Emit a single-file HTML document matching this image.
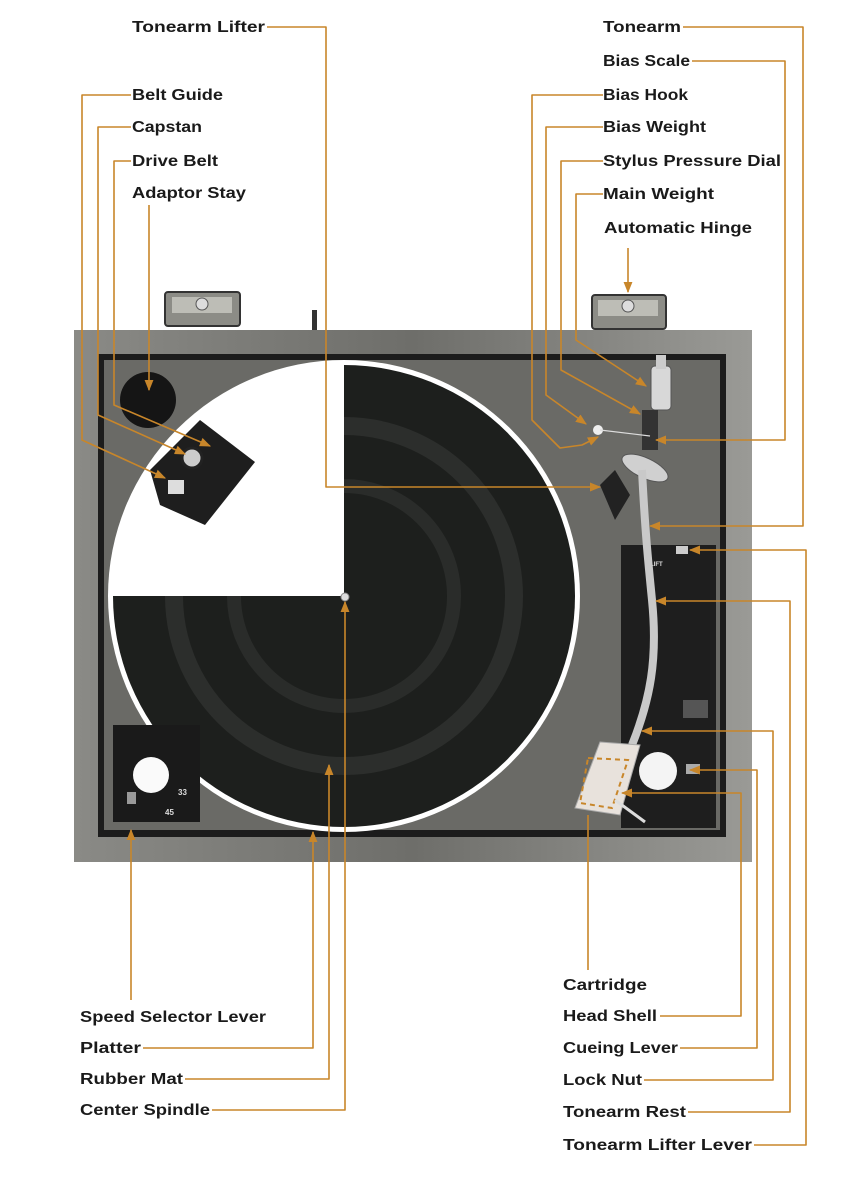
<!DOCTYPE html>
<html><head><meta charset="utf-8"><style>
html,body{margin:0;padding:0;background:#fff;}
svg{display:block;}
text{font-family:"Liberation Sans",sans-serif;font-weight:bold;font-size:15.5px;fill:#1a1a1a;}
.l{fill:none;stroke:#c8862a;stroke-width:1.6;stroke-linejoin:round;}
</style></head><body>
<svg width="854" height="1200" viewBox="0 0 854 1200" xmlns="http://www.w3.org/2000/svg">
<defs>
<marker id="a" viewBox="0 0 10 10" refX="9" refY="5" markerWidth="7" markerHeight="7" orient="auto-start-reverse"><path d="M0,1 L10,5 L0,9 z" fill="#c8862a"/></marker>
<linearGradient id="wood" x1="0" y1="0" x2="1" y2="0"><stop offset="0" stop-color="#8a8a86"/><stop offset="0.5" stop-color="#6e6e6a"/><stop offset="1" stop-color="#9a9a96"/></linearGradient>
</defs>
<!-- hinges -->
<rect x="165" y="292" width="75" height="34" rx="3" fill="#8c8c86" stroke="#333" stroke-width="2"/>
<rect x="172" y="297" width="60" height="16" fill="#bdbdb6"/>
<circle cx="202" cy="304" r="6" fill="#ddd" stroke="#555"/>
<rect x="592" y="295" width="74" height="34" rx="3" fill="#8c8c86" stroke="#333" stroke-width="2"/>
<rect x="598" y="300" width="60" height="16" fill="#bdbdb6"/>
<circle cx="628" cy="306" r="6" fill="#ddd" stroke="#555"/>
<rect x="312" y="310" width="5" height="20" fill="#333"/>
<!-- plinth -->
<rect x="74" y="330" width="678" height="532" fill="url(#wood)"/>
<rect x="98" y="354" width="628" height="483" fill="#1c1c1c"/>
<rect x="104" y="360" width="616" height="470" fill="#6a6a66"/>
<!-- adaptor stay -->
<circle cx="148" cy="400" r="28" fill="#151515"/>
<!-- platter -->
<circle cx="344" cy="596" r="236" fill="#fff"/>
<circle cx="344" cy="596" r="231" fill="#1d1f1d"/>
<circle cx="344" cy="596" r="170" fill="none" stroke="#2c2e2c" stroke-width="18"/>
<circle cx="344" cy="596" r="110" fill="none" stroke="#2a2c2a" stroke-width="14"/>
<path d="M344,596 L344,362 A234,234 0 0 0 110,596 Z" fill="#fff"/>
<circle cx="345" cy="597" r="4" fill="#ddd" stroke="#888"/>
<!-- belt area -->
<path d="M150,470 L200,420 L255,462 L205,525 L160,505 Z" fill="#1e1e1e"/>
<circle cx="192" cy="458" r="10" fill="#ccc" stroke="#222" stroke-width="3"/>
<rect x="168" y="480" width="16" height="14" fill="#ddd"/>
<!-- tonearm panel -->
<rect x="621" y="545" width="95" height="283" fill="#1e1e1e"/>
<rect x="683" y="700" width="25" height="18" fill="#555"/>
<circle cx="658" cy="771" r="19" fill="#f4f4f4"/>
<rect x="686" y="764" width="14" height="10" fill="#aaa"/>
<rect x="676" y="546" width="12" height="8" fill="#ccc"/>
<text x="650" y="566" style="font-size:6px;fill:#ddd">LIFT</text>
<!-- speed selector -->
<rect x="113" y="725" width="87" height="97" fill="#1a1a1a"/>
<circle cx="151" cy="775" r="18" fill="#fafafa"/>
<rect x="127" y="792" width="9" height="12" fill="#999"/>
<text x="178" y="795" style="font-size:8px;fill:#ddd">33</text>
<text x="165" y="815" style="font-size:8px;fill:#ddd">45</text>
<!-- tonearm -->
<rect x="651" y="366" width="20" height="44" rx="4" fill="#d8d8d8" stroke="#555"/>
<rect x="656" y="355" width="10" height="14" fill="#ccc"/>
<rect x="642" y="410" width="16" height="40" fill="#333"/>
<circle cx="598" cy="430" r="5" fill="#eee"/>
<line x1="600" y1="430" x2="650" y2="436" stroke="#ddd" stroke-width="1.2"/>
<ellipse cx="645" cy="468" rx="25" ry="10" transform="rotate(25 645 468)" fill="#d0d0d0" stroke="#555"/>
<path d="M600,485 L615,470 L630,495 L615,520 Z" fill="#222"/>
<path d="M642,470 C645,530 648,560 652,600 C658,660 650,700 632,745" fill="none" stroke="#c9c9c9" stroke-width="8"/>
<path d="M600,742 L640,745 L620,815 L575,808 Z" fill="#e8e2dc" stroke="#aaa"/>
<path d="M588,758 L628,760 L612,808 L580,803 Z" fill="none" stroke="#c8862a" stroke-width="2" stroke-dasharray="5 4"/>
<line x1="615" y1="800" x2="645" y2="822" stroke="#ddd" stroke-width="3"/>

<!-- leader lines -->
<path class="l" d="M267,27 H326 V487 H600" marker-end="url(#a)"/>
<path class="l" d="M683,27 H803 V526 H650" marker-end="url(#a)"/>
<path class="l" d="M692,61 H785 V440 H656" marker-end="url(#a)"/>
<path class="l" d="M603,95 H532 V420 L560,448 L582,445 L598,437" marker-end="url(#a)"/>
<path class="l" d="M603,127 H546 V395 L586,424" marker-end="url(#a)"/>
<path class="l" d="M603,161 H561 V370 L640,414" marker-end="url(#a)"/>
<path class="l" d="M603,194 H576 V340 L646,386" marker-end="url(#a)"/>
<path class="l" d="M628,248 V292" marker-end="url(#a)"/>
<path class="l" d="M131,95 H82 V440 L165,478" marker-end="url(#a)"/>
<path class="l" d="M131,127 H98 V415 L185,454" marker-end="url(#a)"/>
<path class="l" d="M131,161 H114 V405 L210,446" marker-end="url(#a)"/>
<path class="l" d="M149,205 V390" marker-end="url(#a)"/>
<path class="l" d="M131,1000 V830" marker-end="url(#a)"/>
<path class="l" d="M143,1048 H313 V832" marker-end="url(#a)"/>
<path class="l" d="M185,1079 H329 V765" marker-end="url(#a)"/>
<path class="l" d="M212,1110 H345 V602" marker-end="url(#a)"/>
<path class="l" d="M588,970 V815"/>
<path class="l" d="M660,1016 H741 V793 H622" marker-end="url(#a)"/>
<path class="l" d="M680,1048 H757 V770 H690" marker-end="url(#a)"/>
<path class="l" d="M644,1080 H773 V731 H642" marker-end="url(#a)"/>
<path class="l" d="M688,1112 H790 V601 H656" marker-end="url(#a)"/>
<path class="l" d="M754,1145 H806 V550 H690" marker-end="url(#a)"/>

<!-- labels -->
<text x="132" y="32" textLength="133" lengthAdjust="spacingAndGlyphs">Tonearm Lifter</text>
<text x="132" y="100" textLength="91" lengthAdjust="spacingAndGlyphs">Belt Guide</text>
<text x="132" y="132" textLength="70" lengthAdjust="spacingAndGlyphs">Capstan</text>
<text x="132" y="166" textLength="86" lengthAdjust="spacingAndGlyphs">Drive Belt</text>
<text x="132" y="198" textLength="114" lengthAdjust="spacingAndGlyphs">Adaptor Stay</text>
<text x="603" y="32" textLength="78" lengthAdjust="spacingAndGlyphs">Tonearm</text>
<text x="603" y="66" textLength="87" lengthAdjust="spacingAndGlyphs">Bias Scale</text>
<text x="603" y="100" textLength="85" lengthAdjust="spacingAndGlyphs">Bias Hook</text>
<text x="603" y="132" textLength="103" lengthAdjust="spacingAndGlyphs">Bias Weight</text>
<text x="603" y="166" textLength="178" lengthAdjust="spacingAndGlyphs">Stylus Pressure Dial</text>
<text x="603" y="199" textLength="111" lengthAdjust="spacingAndGlyphs">Main Weight</text>
<text x="604" y="233" textLength="148" lengthAdjust="spacingAndGlyphs">Automatic Hinge</text>
<text x="80" y="1022" textLength="186" lengthAdjust="spacingAndGlyphs">Speed Selector Lever</text>
<text x="80" y="1053" textLength="61" lengthAdjust="spacingAndGlyphs">Platter</text>
<text x="80" y="1084" textLength="103" lengthAdjust="spacingAndGlyphs">Rubber Mat</text>
<text x="80" y="1115" textLength="130" lengthAdjust="spacingAndGlyphs">Center Spindle</text>
<text x="563" y="990" textLength="84" lengthAdjust="spacingAndGlyphs">Cartridge</text>
<text x="563" y="1021" textLength="94" lengthAdjust="spacingAndGlyphs">Head Shell</text>
<text x="563" y="1053" textLength="115" lengthAdjust="spacingAndGlyphs">Cueing Lever</text>
<text x="563" y="1085" textLength="79" lengthAdjust="spacingAndGlyphs">Lock Nut</text>
<text x="563" y="1117" textLength="123" lengthAdjust="spacingAndGlyphs">Tonearm Rest</text>
<text x="563" y="1150" textLength="189" lengthAdjust="spacingAndGlyphs">Tonearm Lifter Lever</text>
</svg>
</body></html>
